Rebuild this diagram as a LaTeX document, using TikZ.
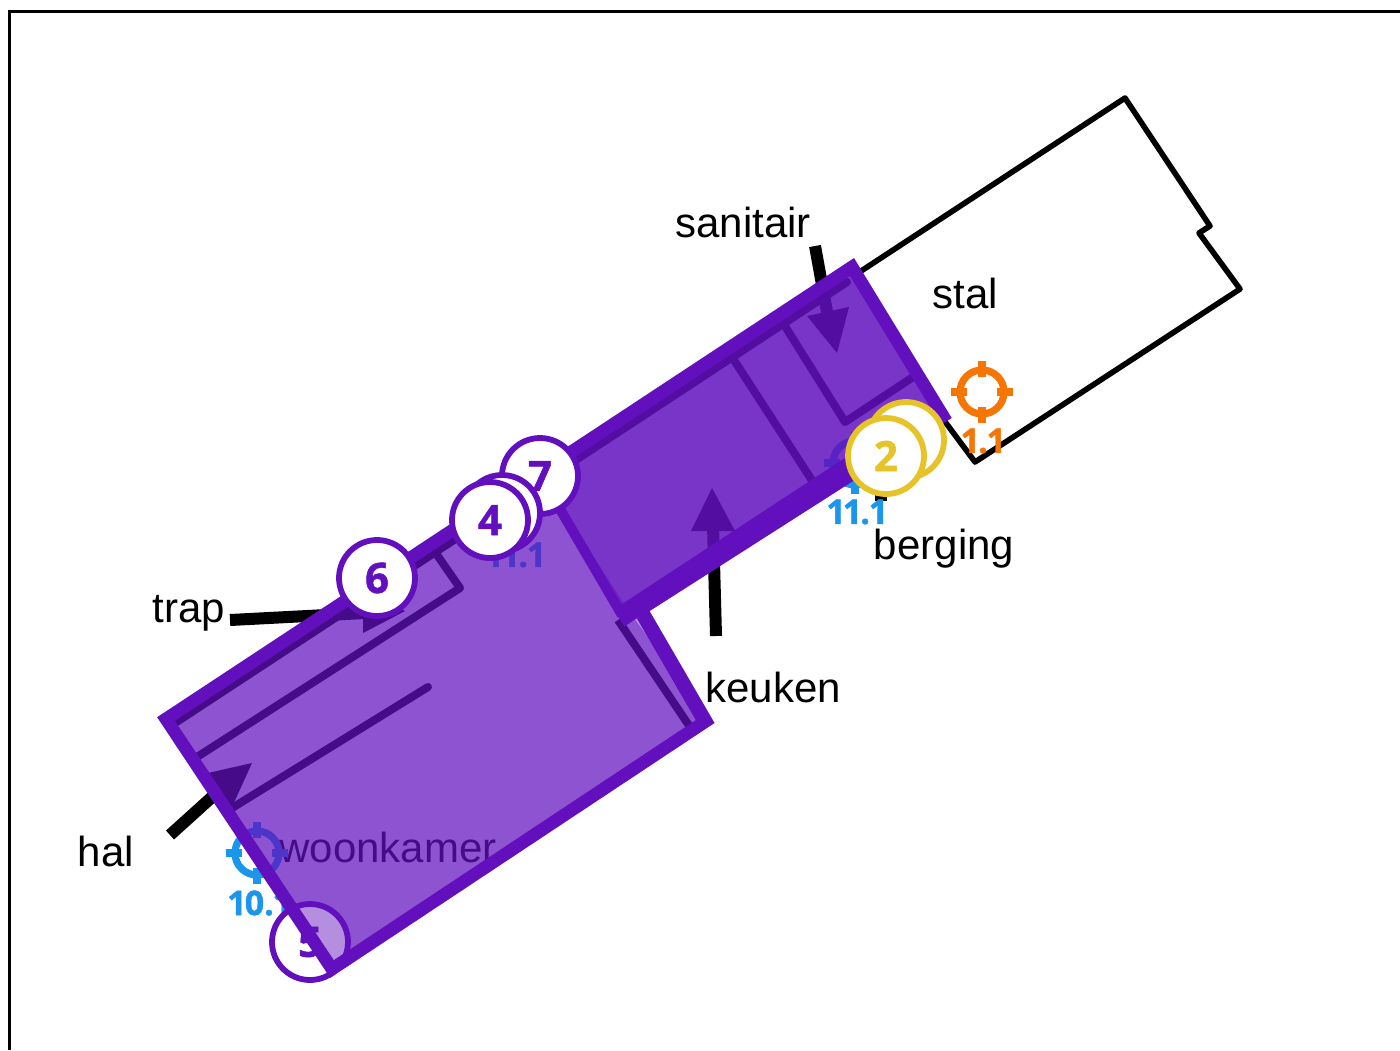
\documentclass[tikz,border=0pt]{standalone}
\usepackage{fontspec}
\setmainfont{Liberation Sans}
\newfontfamily\numfont[Numbers=Proportional,BoldFont={Open Sans Bold},BoldFeatures={FakeBold=1.2,Numbers=Proportional}]{Open Sans}
\definecolor{planpurple}{RGB}{98,16,190}
\definecolor{markblue}{RGB}{27,150,235}
\definecolor{markorange}{RGB}{245,117,5}
\definecolor{markyellow}{RGB}{230,195,40}
\newcommand{\targetmark}[3]{%
  \draw[#3,line width=3.6pt] (#1,#2) circle[radius=22];
  \draw[#3,line width=4pt]
    (#1-31,#2)--(#1-15,#2) (#1+15,#2)--(#1+31,#2)
    (#1,#2-31)--(#1,#2-15) (#1,#2+15)--(#1,#2+31);
}
\tikzset{
  roomlabel/.style={font=\fontsize{21}{25}\selectfont,inner sep=0pt,text=black},
  marklabel/.style={font=\numfont\bfseries\fontsize{17}{20}\selectfont,inner sep=0pt},
  badge/.style={circle,draw=#1,fill=white,line width=2.9pt,minimum size=38pt,inner sep=0pt,
    text=#1,font=\numfont\bfseries\fontsize{21}{25}\selectfont},
  leader/.style={draw=black,line width=6pt},
  head/.style={fill=black},
  wall/.style={draw=black,line width=4pt,line join=round,line cap=round},
  thickwall/.style={draw=planpurple,line join=miter},
  layer/.style={fill=planpurple,fill opacity=.47},
}
\begin{document}
\begin{tikzpicture}[x=.5pt,y=-.5pt]
\useasboundingbox (0,0) rectangle (1400,1050);
% frame
\draw[black,line width=1.5pt] (9,1050)--(9,11)--(1400,11);
% stal outline
\draw[black,line width=2.8pt,line join=round] (855,275)--(1125,98)--(1210,226)--(1199,233)--(1240,289)--(975,462)--(940,415);
% inner walls
\draw[wall] (172,725)--(847,282);
\draw[wall] (732,357)--(815,485);
\draw[wall] (783,323)--(845,422)--(913,377);
\draw[wall] (197,757)--(460,588)--(435,552);
\draw[wall] (428,687)--(232,808);
\draw[wall,line cap=butt] (618,620)--(690,727);
% leaders and heads
\coordinate (sanA) at (815,246); \coordinate (sanB) at (827,312);
\coordinate (keuA) at (716,636); \coordinate (keuB) at (713,525);
\coordinate (traA) at (230,620); \coordinate (traB) at (365,613);
\coordinate (halA) at (170,835); \coordinate (halB) at (222,788);
\coordinate (berA) at (881,501); \coordinate (berB) at (881,470);
\draw[leader] (sanA)--(sanB);
\draw[leader] (keuA)--(keuB);
\draw[leader] (traA)--(traB);
\draw[leader] (halA)--(halB);
\draw[leader] (berA)--(berB);
\fill[head] (807,316)--(849,307)--(837,353)--cycle;
\fill[head] (691,531)--(735,531)--(712,488)--cycle;
\fill[head] (363,633)--(363,590)--(405,611)--cycle;
\fill[head] (208,773)--(252,763)--(232,807)--cycle;
% labels
\node[roomlabel] (woonkamer) at (388,847) {woonkamer};
% markers under the plan
\targetmark{855}{463}{markblue}
\targetmark{515}{505}{markblue}
\targetmark{257}{853}{markblue}
\node[marklabel,text=markblue] (m111a) at (857,512) {11.1};
\node[marklabel,text=markblue] (m111b) at (515,555) {11.1};
\node[marklabel,text=markblue,anchor=west] (m101) at (228,903) {10.1};
% first layer
\fill[layer] (166,719)--(540,473)--(628,610)--(711,723)--(332,969)--cycle;
\node[badge=planpurple] (b5) at (310,942) {5};
% outer layer and kitchen layers
\fill[layer] (166,719)--(852,267)--(943,416)--(641,609)--(706,721)--(332,969)--cycle;
\fill[layer] (535,470)--(852,267)--(943,416)--(641,609)--(622,612)--cycle;
\fill[layer] (535,470)--(852,267)--(943,416)--(641,609)--(622,612)--cycle;
% thick outlines
\draw[thickwall,line width=6.4pt] (166,719)--(852,267)--(943,416)--(641,609)--(706,721)--(332,969)--cycle;
\draw[thickwall,line width=5pt] (533,463)--(622,615);
\draw[thickwall,line width=10pt] (619,618)--(860,460);
\draw[thickwall,line width=7pt] (643,615)--(705,722);
% top badges
\node[badge=planpurple] (b6) at (377,578) {6};
\node[badge=planpurple] (b7) at (540,476) {7};
\node[badge=planpurple] (b3) at (502,513) {};
\node[badge=planpurple] (b4) at (490,520) {4};
\node[badge=markyellow] (b1) at (906,440) {};
\node[badge=markyellow] (b2) at (886,456) {2};
% orange marker
\targetmark{982}{392}{markorange}
\node[marklabel,text=markorange] (m11) at (983,441) {1.1};
% room labels
\node[roomlabel] (sanitair) at (743,222) {sanitair};
\node[roomlabel] (stal) at (965,293) {stal};
\node[roomlabel] (berging) at (944,549) {berging};
\node[roomlabel] (keuken) at (773,687) {keuken};
\node[roomlabel] (trap) at (189,613) {trap};
\node[roomlabel] (hal) at (106,851) {hal};
\end{tikzpicture}
\end{document}
